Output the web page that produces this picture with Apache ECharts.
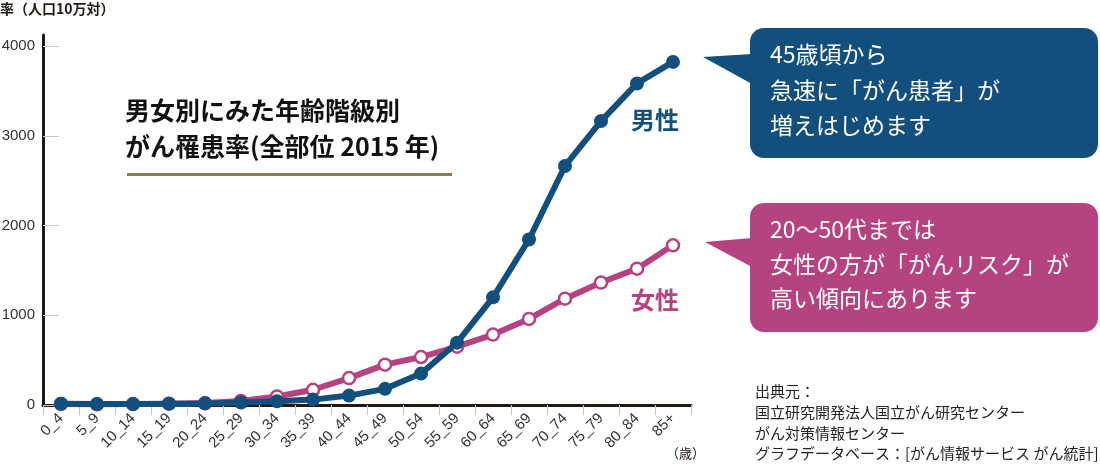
<!DOCTYPE html>
<html><head><meta charset="utf-8">
<script src="https://cdn.jsdelivr.net/npm/echarts@6/dist/echarts.min.js"></script>
<style>html,body{margin:0;padding:0;background:#fff}#c{width:1100px;height:465px}</style>
</head><body><div id="c"></div>
<script>
const categories = ['0_4','5_9','10_14','15_19','20_24','25_29','30_34','35_39','40_44','45_49','50_54','55_59','60_64','65_69','70_74','75_79','80_84','85+'];
const maleValues = [14, 10, 11, 15, 18, 28, 42, 60, 105, 180, 350, 695, 1200, 1845, 2665, 3165, 3585, 3825];
const femaleValues = [12, 8, 10, 15, 22, 45, 95, 170, 300, 450, 535, 650, 785, 960, 1185, 1365, 1520, 1780];
const yTicks = [0, 1000, 2000, 3000, 4000];

const BLUE = '#134f7d', PINK = '#b5437f';
const JP = '"Noto Sans CJK JP", sans-serif';
const NUM = '"Liberation Sans", Arial, sans-serif';

const chart = echarts.init(document.getElementById('c'), null, {renderer: 'canvas'});
chart.setOption({
  animation: false,
  grid: {left: 43, right: 409, top: 35, bottom: 60, containLabel: false, outerBoundsMode: 'none'},
  xAxis: {
    type: 'category', data: categories, boundaryGap: true,
    axisLine: {lineStyle: {color: '#231815', width: 3}},
    axisTick: {show: true, interval: 0, length: 10, lineStyle: {color: '#c8c8c8', width: 1}},
    axisLabel: {interval: 0, rotate: 45, margin: 11, fontSize: 15, color: '#333', fontFamily: NUM}
  },
  yAxis: {
    type: 'value', min: 0, max: 4125,
    splitLine: {show: false},
    axisLine: {show: true, lineStyle: {color: '#231815', width: 3}},
    axisTick: {show: true, inside: true, length: 16, customValues: yTicks, lineStyle: {color: '#c8c8c8', width: 1}},
    axisLabel: {customValues: yTicks, formatter: v => String(v), fontSize: 15, color: '#333', margin: 8, fontFamily: NUM}
  },
  series: [
    {name: '女性', type: 'line', data: femaleValues, symbol: 'circle', symbolSize: 12,
     lineStyle: {color: PINK, width: 6}, itemStyle: {color: '#fff', borderColor: PINK, borderWidth: 2.5}, z: 2},
    {name: '男性', type: 'line', data: maleValues, symbol: 'circle', symbolSize: 14,
     lineStyle: {color: BLUE, width: 6}, itemStyle: {color: BLUE, borderColor: BLUE, borderWidth: 0}, z: 3}
  ],
  graphic: [
    {type: 'text', style: {x: 0, y: 9, text: '率（人口10万対）', font: 'bold 14px ' + JP, fill: '#231815', textVerticalAlign: 'middle'}},
    {type: 'text', style: {x: 666, y: 453, text: '（歳）', font: '13px ' + JP, fill: '#231815', textVerticalAlign: 'middle'}},
    {type: 'text', style: {x: 125, y: 110, text: '男女別にみた年齢階級別', font: 'bold 25px ' + JP, fill: '#111', textVerticalAlign: 'middle'}},
    {type: 'text', style: {x: 125, y: 146, text: 'がん罹患率(全部位 2015 年)', font: 'bold 25px ' + JP, fill: '#111', textVerticalAlign: 'middle'}},
    {type: 'rect', shape: {x: 127, y: 173, width: 325, height: 3}, style: {fill: '#8c7a55'}},
    {type: 'text', style: {x: 631, y: 120, text: '男性', font: 'bold 24px ' + JP, fill: BLUE, textVerticalAlign: 'middle'}},
    {type: 'text', style: {x: 631, y: 300, text: '女性', font: 'bold 24px ' + JP, fill: PINK, textVerticalAlign: 'middle'}},
    {type: 'rect', shape: {x: 750, y: 28, width: 348, height: 130, r: 14}, style: {fill: BLUE}},
    {type: 'polygon', shape: {points: [[703, 57], [752, 54], [752, 84]]}, style: {fill: BLUE}},
    {type: 'text', style: {x: 770, y: 54, text: '45歳頃から', font: '23px ' + JP, fill: '#fff', textVerticalAlign: 'middle'}},
    {type: 'text', style: {x: 770, y: 90, text: '急速に「がん患者」が', font: '23px ' + JP, fill: '#fff', textVerticalAlign: 'middle'}},
    {type: 'text', style: {x: 770, y: 125, text: '増えはじめます', font: '23px ' + JP, fill: '#fff', textVerticalAlign: 'middle'}},
    {type: 'rect', shape: {x: 750, y: 203, width: 348, height: 129, r: 14}, style: {fill: PINK}},
    {type: 'polygon', shape: {points: [[705, 242], [752, 238], [752, 267]]}, style: {fill: PINK}},
    {type: 'text', style: {x: 770, y: 229, text: '20〜50代までは', font: '23px ' + JP, fill: '#fff', textVerticalAlign: 'middle'}},
    {type: 'text', style: {x: 770, y: 264, text: '女性の方が「がんリスク」が', font: '23px ' + JP, fill: '#fff', textVerticalAlign: 'middle'}},
    {type: 'text', style: {x: 770, y: 298, text: '高い傾向にあります', font: '23px ' + JP, fill: '#fff', textVerticalAlign: 'middle'}},
    {type: 'text', style: {x: 755, y: 391, text: '出典元：', font: '15px ' + JP, fill: '#222', textVerticalAlign: 'middle'}},
    {type: 'text', style: {x: 755, y: 412, text: '国立研究開発法人国立がん研究センター', font: '15px ' + JP, fill: '#222', textVerticalAlign: 'middle'}},
    {type: 'text', style: {x: 755, y: 433, text: 'がん対策情報センター', font: '15px ' + JP, fill: '#222', textVerticalAlign: 'middle'}},
    {type: 'text', style: {x: 755, y: 453, text: 'グラフデータベース：[がん情報サービス がん統計]', font: '15px ' + JP, fill: '#222', textVerticalAlign: 'middle'}}
  ]
});
</script></body></html>
